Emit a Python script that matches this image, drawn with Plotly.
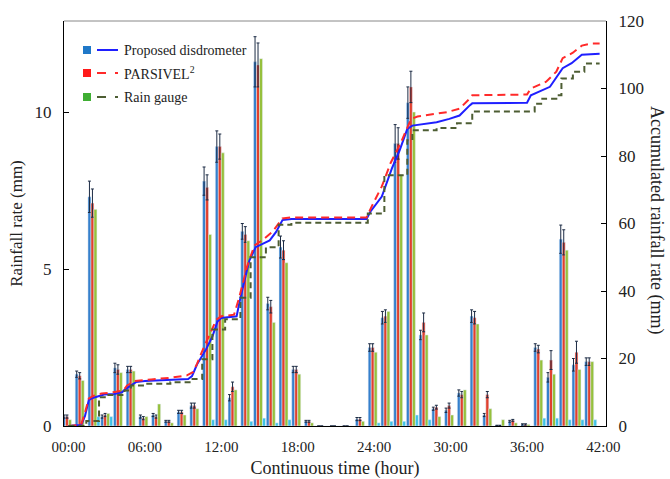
import plotly.graph_objects as go

hours = list(range(42))

rate_proposed = [0.3, 1.65, 7.3, 0.3, 1.85, 1.8, 0.3, 0.35, 0.15, 0.45, 0.65, 7.8, 8.9, 0.9, 6.2, 11.6,
                 3.9, 5.7, 1.8, 0.15, 0, 0, 0, 0.22, 2.5, 3.45, 9.0, 10.3, 2.9, 0.55, 0.5, 1.05,
                 3.5, 0.35, 0.02, 0.15, 0.05, 2.5, 1.55, 5.95, 1.95, 2.05]
rate_parsivel = [0.3, 1.6, 7.1, 0.35, 1.8, 1.8, 0.25, 0.3, 0.15, 0.45, 0.65, 7.6, 8.9, 1.25, 6.1, 11.5,
                 3.8, 5.6, 1.8, 0.15, 0, 0, 0, 0.22, 2.5, 3.5, 9.0, 10.8, 3.3, 0.6, 0.65, 1.0,
                 3.45, 1.0, 0.02, 0.18, 0.05, 2.45, 2.1, 5.85, 2.35, 2.05]
rate_gauge = [0.2, 1.45, 6.9, 0.4, 1.7, 1.75, 0.3, 0.7, 0.1, 0.35, 0.55, 6.1, 8.7, 1.15, 5.9, 11.7,
              3.3, 5.2, 1.65, 0.1, 0, 0, 0, 0.15, 2.35, 3.65, 8.0, 10.0, 2.9, 0.3, 0.35, 1.15,
              3.25, 0.55, 0.2, 0.1, 0.05, 2.1, 1.65, 5.6, 1.8, 2.05]
rate_diff = [0.05, 0, 0.3, 0.3, 0, 0, 0, 0, 0, 0, 0, 0.2, 0.2, 0, 0.15, 0.25,
             0.1, 0.2, 0, 0, 0, 0, 0, 0, 0.1, 0.15, 0.15, 0.35, 0.2, 0, 0, 0,
             0, 0, 0, 0, 0, 0.25, 0.25, 0.2, 0.2, 0.2]
err_proposed = [0.05, 0.1, 0.5, 0.05, 0.15, 0.1, 0.05, 0.05, 0.03, 0.05, 0.08, 0.45, 0.5, 0.1, 0.25, 0.8,
                0.2, 0.35, 0.1, 0.03, 0, 0, 0, 0.05, 0.12, 0.2, 0.6, 0.5, 0.15, 0.05, 0.07, 0.1,
                0.2, 0.05, 0, 0.03, 0.02, 0.12, 0.15, 0.45, 0.2, 0.12]
err_parsivel = [0.05, 0.1, 0.45, 0.05, 0.15, 0.1, 0.05, 0.05, 0.03, 0.05, 0.08, 0.4, 0.4, 0.15, 0.25, 0.7,
                0.2, 0.3, 0.1, 0.03, 0, 0, 0, 0.05, 0.12, 0.2, 0.5, 0.5, 0.3, 0.06, 0.08, 0.1,
                0.2, 0.1, 0, 0.03, 0.02, 0.12, 0.3, 0.4, 0.35, 0.12]

acc_proposed_t = [0, 1.0, 1.3, 1.6, 1.9, 2.5, 2.8, 3.6, 4.2, 4.5, 4.9, 5.3, 6.0, 8.0, 9.4, 9.7, 10.1,
                  10.8, 11.3, 11.7, 12.0, 13.2, 13.5, 14.2, 14.7, 15.8, 16.3, 16.8, 17.5, 23.4, 23.7,
                  24.6, 25.4, 26.0, 26.6, 27.0, 28.9, 29.9, 30.7, 31.5, 31.7, 36.0, 36.3, 37.8, 38.4,
                  38.8, 39.5, 40.3, 41.7]
acc_proposed = [0, 0.3, 3.0, 7.7, 8.3, 8.9, 9.3, 9.5, 10.0, 11.0, 12.0, 13.0, 13.3, 13.6, 13.9, 14.8,
                18.3, 22.7, 26.5, 31.0, 32.0, 32.5, 38.0, 49.0, 53.0, 55.0, 57.5, 61.0, 61.3, 61.3,
                63.5, 68.0, 76.4, 81.7, 88.0, 89.0, 90.0, 91.0, 92.0, 95.0, 95.6, 95.8, 98.0, 100.5,
                104.0, 106.0, 107.5, 110.0, 110.3]
acc_parsivel_t = [0, 1.0, 1.3, 1.6, 2.0, 2.6, 3.5, 4.3, 4.6, 5.2, 6.5, 8.0, 9.3, 9.8, 10.1, 10.7,
                  11.2, 11.6, 12.0, 13.0, 13.4, 14.0, 14.6, 15.2, 16.0, 16.3, 16.8, 17.5, 23.4, 23.8,
                  24.6, 25.3, 26.1, 26.9, 27.4, 29.7, 30.7, 31.5, 31.7, 36.0, 36.3, 37.5, 38.3, 38.8,
                  39.6, 40.3, 41.0, 41.7]
acc_parsivel = [0, 0.4, 4.0, 8.2, 9.0, 9.6, 10.0, 10.5, 12.0, 13.3, 13.8, 14.3, 15.0, 16.0, 18.5,
                24.0, 28.0, 31.5, 32.5, 33.0, 38.0, 47.0, 53.5, 55.0, 57.5, 59.0, 61.5, 61.8, 61.8,
                65.0, 71.0, 78.0, 84.0, 91.0, 91.7, 93.0, 94.0, 97.0, 98.0, 98.2, 100.0, 102.0,
                105.0, 109.0, 110.6, 112.7, 113.3, 113.3]
acc_gauge_t = [0, 1.4, 2.4, 3.0, 4.4, 4.9, 6.0, 8.0, 9.6, 10.5, 11.3, 12.3, 13.5, 14.3, 15.5, 16.5,
               17.5, 23.5, 24.8, 26.6, 27.0, 28.9, 30.5, 31.7, 36.6, 37.2, 38.3, 38.7, 39.6, 40.5, 41.7]
acc_gauge = [0, 1.5, 8.5, 9.2, 10.5, 12.0, 12.5, 13.0, 13.9, 19.8, 28.6, 31.6, 38.0, 50.0, 53.0,
             59.6, 60.2, 63.0, 74.3, 84.7, 87.6, 88.3, 89.7, 93.2, 95.5, 97.0, 98.0, 103.0, 105.0,
             107.4, 107.4]

tick_hours = [0, 6, 12, 18, 24, 30, 36, 42]
tick_labels = ["00:00", "06:00", "12:00", "18:00", "24:00", "30:00", "36:00", "42:00"]

FONT = "Liberation Serif, Times New Roman, serif"
TXT = "#222"
C_BLUE_BAR = "#3580cc"
C_RED_BAR = "#e0402e"
C_GREEN_BAR = "#96c03c"
C_CYAN = "#3fc2e6"
C_BLUE_LINE = "#1f1fff"
C_RED_LINE = "#ff2a2a"
C_GREEN_LINE = "#4d5d33"
ERR = dict(type="data", thickness=1, width=1.5, color="#1c2b44")

fig = go.Figure()
fig.add_trace(go.Bar(x=hours, y=rate_proposed, marker_color=C_BLUE_BAR, showlegend=False,
                     error_y=dict(array=err_proposed, **ERR)))
fig.add_trace(go.Bar(x=hours, y=rate_parsivel, marker_color=C_RED_BAR, showlegend=False,
                     error_y=dict(array=err_parsivel, **ERR)))
fig.add_trace(go.Bar(x=hours, y=rate_gauge, marker_color=C_GREEN_BAR, showlegend=False))
fig.add_trace(go.Bar(x=hours, y=rate_diff, marker_color=C_CYAN, showlegend=False))

fig.add_trace(go.Scatter(x=acc_proposed_t, y=acc_proposed, yaxis="y2", mode="lines",
                         line=dict(color=C_BLUE_LINE, width=2), showlegend=False))
fig.add_trace(go.Scatter(x=acc_parsivel_t, y=acc_parsivel, yaxis="y2", mode="lines",
                         line=dict(color=C_RED_LINE, width=2, dash="8px,5px"), showlegend=False))
fig.add_trace(go.Scatter(x=acc_gauge_t, y=acc_gauge, yaxis="y2", mode="lines", line_shape="hv",
                         line=dict(color=C_GREEN_LINE, width=2, dash="6px,4px"), showlegend=False))

# plot area in page pixels
PL, PR, PT, PB = 64, 606, 21, 426
PW, PH = PR - PL, PB - PT


def px(x):
    return (x - PL) / PW


def py(y):
    return (PB - y) / PH


legend_rows = [("Proposed disdrometer", "#1f78c8", C_BLUE_LINE, "solid", 50),
               ("PARSIVEL<sup>2</sup>", "#ff1a1a", C_RED_LINE, "dash", 73),
               ("Rain gauge", "#3fae33", C_GREEN_LINE, "dash", 97)]
shapes = []
annotations = []
for label, sq, ln, dash, yc in legend_rows:
    shapes.append(dict(type="rect", xref="paper", yref="paper",
                       x0=px(83), x1=px(91), y0=py(yc + 4), y1=py(yc - 4),
                       fillcolor=sq, line=dict(width=0)))
    shapes.append(dict(type="line", xref="paper", yref="paper",
                       x0=px(97), x1=px(118), y0=py(yc), y1=py(yc),
                       line=dict(color=ln, width=2, dash=dash)))
    annotations.append(dict(text=label, xref="paper", yref="paper", x=px(122), y=py(yc),
                            xanchor="left", yanchor="middle", showarrow=False,
                            font=dict(family=FONT, size=14, color=TXT)))

shapes.append(dict(type="line", xref="paper", yref="paper", x0=0, x1=1, y0=1, y1=1,
                   line=dict(color="#888", width=1)))

annotations.append(dict(text="Accumulated rainfall rate (mm)", xref="paper", yref="paper",
                        x=px(657), y=py(220), textangle=90, showarrow=False, xanchor="center",
                        yanchor="middle", font=dict(family=FONT, size=18, color=TXT)))

W, H = 670, 479
fig.update_layout(
    width=W, height=H,
    margin=dict(l=PL, r=W - PR, t=PT, b=H - PB),
    plot_bgcolor="white", paper_bgcolor="white",
    barmode="group", bargap=0.06, bargroupgap=0,
    font=dict(family=FONT, size=14, color=TXT),
    shapes=shapes, annotations=annotations,
    xaxis=dict(range=[-0.35, 42.2], tickvals=tick_hours, ticktext=tick_labels, automargin=False,
               showline=True, linecolor="black", linewidth=1, showgrid=False, zeroline=False,
               ticks="", tickfont=dict(family=FONT, size=15, color=TXT), ticklabelstandoff=7,
               title=dict(text="Continuous time (hour)", font=dict(family=FONT, size=18, color=TXT),
                          standoff=7)),
    yaxis=dict(range=[0, 12.9], tickvals=[0, 5, 10], showline=True, linecolor="black", linewidth=1,
               automargin=False,
               showgrid=False, zeroline=False, ticks="inside", ticklen=5, tickcolor="black",
               tickfont=dict(family=FONT, size=17, color=TXT), ticklabelstandoff=8,
               title=dict(text="Rainfall rate (mm)", font=dict(family=FONT, size=17, color=TXT),
                          standoff=7)),
    yaxis2=dict(range=[0, 120], tickvals=[0, 20, 40, 60, 80, 100, 120], overlaying="y", side="right",
                showline=True, linecolor="black", linewidth=1, showgrid=False, zeroline=False,
                automargin=False,
                ticks="inside", ticklen=5, tickcolor="black", ticklabelstandoff=8,
                tickfont=dict(family=FONT, size=17, color=TXT)),
)

fig.write_html("out.html", config={"displayModeBar": False},
               post_script="document.body.style.margin='0px';document.body.style.overflow='hidden';")
